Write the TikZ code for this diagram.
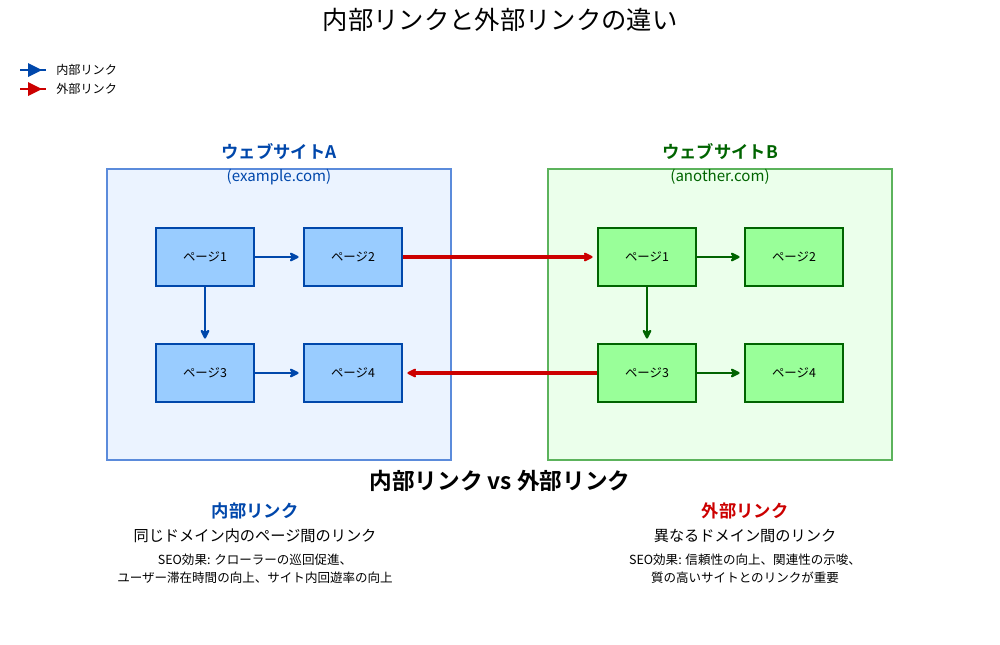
\documentclass[tikz,border=0pt]{standalone}
\usepackage{fontspec}
\setmainfont{Noto Sans CJK JP}[BoldFont={Noto Sans CJK JP Bold}]
\usetikzlibrary{arrows.meta}
\definecolor{ablue}{HTML}{0047AB}
\definecolor{agreen}{HTML}{006400}
\definecolor{ared}{HTML}{CC0000}
\definecolor{afill}{HTML}{EBF3FF}
\definecolor{aline}{HTML}{5B8BDB}
\definecolor{bfill}{HTML}{EBFFEB}
\definecolor{bline}{HTML}{5CB35C}
\definecolor{apage}{HTML}{99CCFF}
\definecolor{bpage}{HTML}{99FF99}
\tikzset{
  fs/.style={font=\fontsize{#1}{#1}\selectfont},
  fsb/.style={font=\fontsize{#1}{#1}\selectfont\bfseries},
  pageA/.style={draw=ablue, fill=apage, line width=1.1pt, minimum width=73.5pt, minimum height=43.5pt, inner sep=0pt, fs=9.3},
  pageB/.style={draw=agreen, fill=bpage, line width=1.1pt, minimum width=73.5pt, minimum height=43.5pt, inner sep=0pt, fs=9.3},
  lnk/.style={line width=2pt, -{Stealth[length=8.5pt,width=8.5pt,inset=2.5pt,round]}},
  bl/.style={lnk, draw=ablue},
  gl/.style={lnk, draw=agreen},
  rl/.style={lnk, draw=ared, line width=2.5pt},
  txt/.style={inner sep=0pt, anchor=center},
}
\begin{document}
\begin{tikzpicture}[x=0.75pt,y=-0.75pt]
\useasboundingbox (0,0) rectangle (1000,644);
\fill[white] (0,0) rectangle (1000,644);
% title
\node[txt, fs=19] (title) at (500,20) {内部リンクと外部リンクの違い};
% legend
\coordinate (l1a) at (20,70); \coordinate (l1b) at (46,70);
\coordinate (l2a) at (20,89); \coordinate (l2b) at (46,89);
\draw[ablue, line width=2pt] (l1a) -- (l1b);
\fill[ablue] (28,63) -- (42,70) -- (28,77) -- cycle;
\draw[ared, line width=2pt] (l2a) -- (l2b);
\fill[ared] (28,82) -- (42,89) -- (28,96) -- cycle;
\node[txt, anchor=west, fs=9.1] (lt1) at (56,70) {内部リンク};
\node[txt, anchor=west, fs=9.1] (lt2) at (56,89) {外部リンク};
% site boxes
\draw[aline, fill=afill, line width=1.8pt] (107,169) rectangle (451,460);
\draw[bline, fill=bfill, line width=1.8pt] (548,169) rectangle (892,460);
\node[txt, fsb=13, text=ablue] (sa) at (279,152) {ウェブサイトA};
\node[txt, fs=11.3, text=ablue] (sad) at (279,177) {(example.com)};
\node[txt, fsb=13, text=agreen] (sb) at (720,152) {ウェブサイトB};
\node[txt, fs=11.3, text=agreen] (sbd) at (720,177) {(another.com)};
% pages A
\node[pageA] (a1) at (205,257) {ページ1};
\node[pageA] (a2) at (353,257) {ページ2};
\node[pageA] (a3) at (205,373) {ページ3};
\node[pageA] (a4) at (353,373) {ページ4};
% pages B
\node[pageB] (b1) at (647,257) {ページ1};
\node[pageB] (b2) at (794,257) {ページ2};
\node[pageB] (b3) at (647,373) {ページ3};
\node[pageB] (b4) at (794,373) {ページ4};
% internal links
\draw[bl] (a1.east) -- ([xshift=-3.5pt]a2.west);
\draw[bl] (a1.south) -- ([yshift=3.5pt]a3.north);
\draw[bl] (a3.east) -- ([xshift=-3.5pt]a4.west);
\draw[gl] (b1.east) -- ([xshift=-3.5pt]b2.west);
\draw[gl] (b1.south) -- ([yshift=3.5pt]b3.north);
\draw[gl] (b3.east) -- ([xshift=-3.5pt]b4.west);
% external links
\draw[rl] (a2.east) -- ([xshift=-3.5pt]b1.west);
\draw[rl] (b3.west) -- ([xshift=3.5pt]a4.east);
% bottom
\node[txt, fsb=17] (vs) at (500,481) {内部リンク vs 外部リンク};
\node[txt, fsb=13, text=ablue] (it) at (255,511) {内部リンク};
\node[txt, fs=11.4] (id) at (255,536) {同じドメイン内のページ間のリンク};
\node[txt, fs=9.4] (is1) at (255,560) {SEO効果: クローラーの巡回促進、};
\node[txt, fs=9.4] (is2) at (255,578) {ユーザー滞在時間の向上、サイト内回遊率の向上};
\node[txt, fsb=13, text=ared] (et) at (745,511) {外部リンク};
\node[txt, fs=11.4] (ed) at (745,536) {異なるドメイン間のリンク};
\node[txt, fs=9.4] (es1) at (745,560) {SEO効果: 信頼性の向上、関連性の示唆、};
\node[txt, fs=9.4] (es2) at (745,578) {質の高いサイトとのリンクが重要};
\end{tikzpicture}
\end{document}
